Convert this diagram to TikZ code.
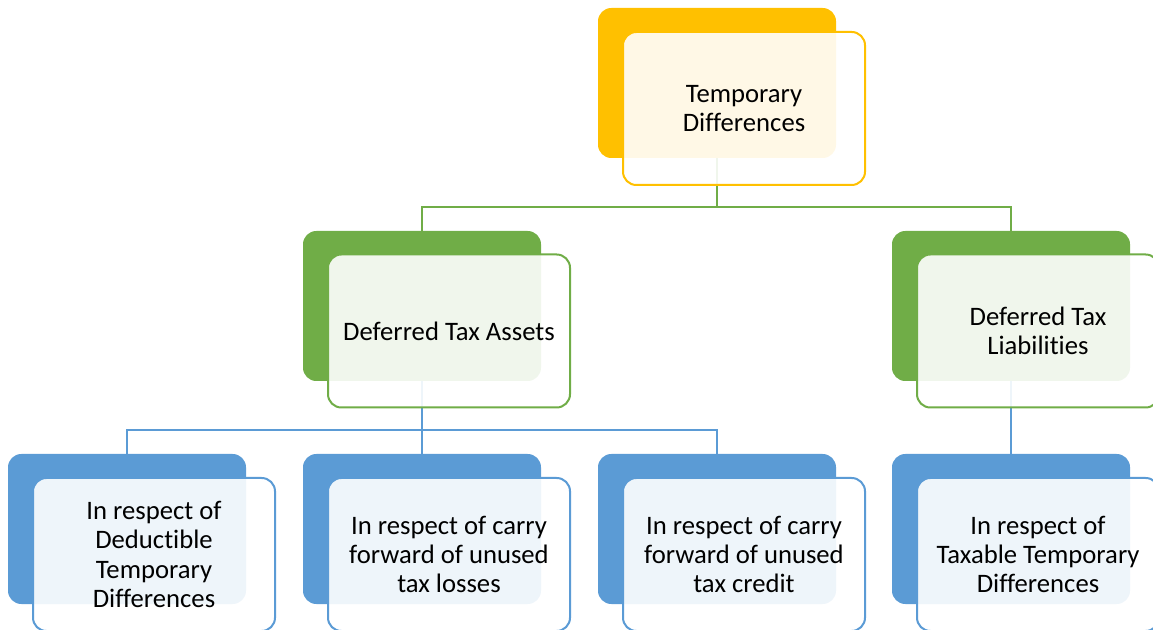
\documentclass[tikz,border=0pt]{standalone}
\usepackage{fontspec}
\setmainfont{Carlito}[Ligatures=NoCommon]
\definecolor{cOrange}{HTML}{FFC000}
\definecolor{cGreen}{HTML}{70AD47}
\definecolor{cBlue}{HTML}{5B9BD5}
\begin{document}
\begin{tikzpicture}[x=0.75pt,y=-0.75pt,
  backbox/.style={rectangle,rounded corners=10pt,minimum width=178.5pt,minimum height=112.5pt,inner sep=0pt,fill=#1,draw=none},
  frontbox/.style={rectangle,rounded corners=10pt,minimum width=181.5pt,minimum height=114.75pt,inner sep=0pt,
    fill=white,fill opacity=0.9,text opacity=1,draw=#1,line width=1.5pt,align=center,text=black,
    font=\fontsize{20pt}{22pt}\selectfont},
  conn/.style={draw=#1,line width=1.6pt}]
\useasboundingbox (0,0) rectangle (1153,630);
\clip (0,0) rectangle (1153,630);
% back boxes
\node[backbox=cOrange] (Tb) at (717,83) {};
\node[backbox=cGreen] (Ab) at (422,306) {};
\node[backbox=cGreen] (Bb) at (1011,306) {};
\node[backbox=cBlue] (C1b) at (127,529) {};
\node[backbox=cBlue] (C2b) at (422,529) {};
\node[backbox=cBlue] (C3b) at (717,529) {};
\node[backbox=cBlue] (C4b) at (1011,529) {};
% connectors
\draw[conn=cGreen] (Tb.south) -- ++(0,49) -| (Ab.north);
\draw[conn=cGreen] (Tb.south) -- ++(0,49) -| (Bb.north);
\draw[conn=cBlue] (Ab.south) -- ++(0,49) -| (C1b.north);
\draw[conn=cBlue] (Ab.south) -- (C2b.north);
\draw[conn=cBlue] (Ab.south) -- ++(0,49) -| (C3b.north);
\draw[conn=cBlue] (Bb.south) -- (C4b.north);
% front boxes
\node[frontbox=cOrange] (T) at (744,108.5) {Temporary\\Differences};
\node[frontbox=cGreen] (A) at (449,331) {Deferred Tax Assets};
\node[frontbox=cGreen] (B) at (1038,331) {Deferred Tax\\Liabilities};
\node[frontbox=cBlue] (C1) at (154,554.5) {In respect of\\Deductible\\Temporary\\Differences};
\node[frontbox=cBlue] (C2) at (449,554.5) {In respect of carry\\forward of unused\\tax losses};
\node[frontbox=cBlue] (C3) at (744,554.5) {In respect of carry\\forward of unused\\tax credit};
\node[frontbox=cBlue] (C4) at (1038,554.5) {In respect of\\Taxable Temporary\\Differences};
\end{tikzpicture}
\end{document}
